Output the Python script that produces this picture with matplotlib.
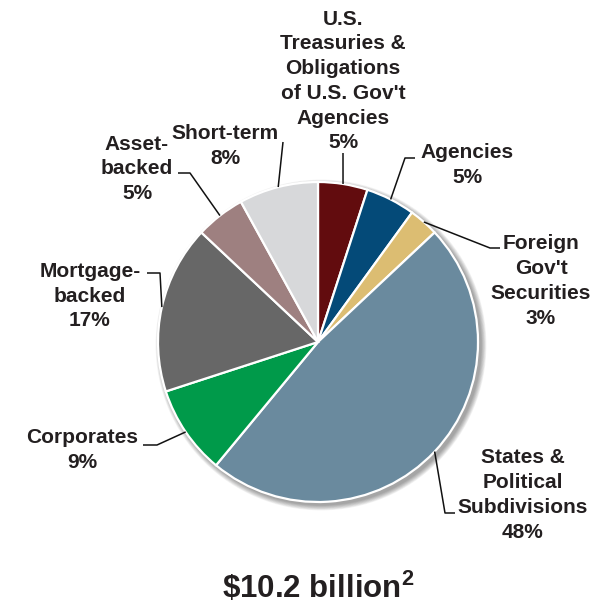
import numpy as np
import matplotlib
matplotlib.use("Agg")
import matplotlib.pyplot as plt
from matplotlib.patches import Circle

plt.rcParams["mathtext.fontset"] = "custom"
plt.rcParams["mathtext.rm"] = "Liberation Sans"
plt.rcParams["mathtext.bf"] = "Liberation Sans:bold"

# Portfolio composition (percent of total)
categories = [
    "U.S.\nTreasuries &\nObligations\nof U.S. Gov't\nAgencies",
    "Agencies",
    "Foreign\nGov't\nSecurities",
    "States &\nPolitical\nSubdivisions",
    "Corporates",
    "Mortgage-\nbacked",
    "Asset-\nbacked",
    "Short-term",
]
values = [5, 5, 3, 48, 9, 17, 5, 8]
colors = ["#620c0e", "#044a78", "#dcbd72", "#6a8a9e",
          "#009a4a", "#676767", "#9e8080", "#d7d8da"]
total_label = r"\$10.2 billion$^{\mathbf{2}}$"

W, H = 612, 608
fig = plt.figure(figsize=(W / 100, H / 100), dpi=100)
ax = fig.add_axes([0, 0, 1, 1])

cx, cy, R = 318, H - 342, 160

# soft drop shadow
for i in range(8):
    ax.add_patch(Circle((cx + 3, cy - 3), R + 0.5 + i * 0.7,
                        facecolor="#000000", alpha=0.05, lw=0, zorder=0))

wedges, _ = ax.pie(values, colors=colors, startangle=90, counterclock=False,
                   center=(cx, cy), radius=R,
                   wedgeprops=dict(edgecolor="white", linewidth=1.6))
for w in wedges:
    w.set_zorder(2)

ax.set_xlim(0, W)
ax.set_ylim(0, H)
ax.set_aspect("equal")
ax.axis("off")

# label layout: text centre and leader path (pixel positions, y measured from top)
label_pos = [(343, 81), (467, 165), (541, 281), (523, 495),
             (82, 450), (90, 296), (137, 169), (225, 146)]
leader_path = [
    [(343, 153)],
    [(405, 158), (415, 158)],
    [(490, 248), (500, 248)],
    [(445, 513), (455, 513)],
    [(157, 445), (143, 445)],
    [(160, 273), (147, 273)],
    [(190, 173), (178, 173)],
    [(283, 142)],
]

txt_color = "#231f20"
for w, cat, v, pos, path in zip(wedges, categories, values, label_pos, leader_path):
    ang = np.deg2rad((w.theta1 + w.theta2) / 2)
    ax_x = cx + R * np.cos(ang)
    ax_y = cy + R * np.sin(ang)
    xs = [ax_x] + [p[0] for p in path]
    ys = [ax_y] + [H - p[1] for p in path]
    ax.plot(xs, ys, color="#111111", lw=1.1, zorder=3, solid_capstyle="butt")
    ax.text(pos[0], H - pos[1], f"{cat}\n{v}%", ha="center", va="center",
            fontsize=15, fontweight="bold", family="Liberation Sans",
            color=txt_color, linespacing=1.38, zorder=4)

ax.text(318, H - 588, total_label, ha="center", va="center", fontsize=22.5,
        fontweight="bold", family="Liberation Sans", color=txt_color)

fig.savefig("out.png", dpi=100)
